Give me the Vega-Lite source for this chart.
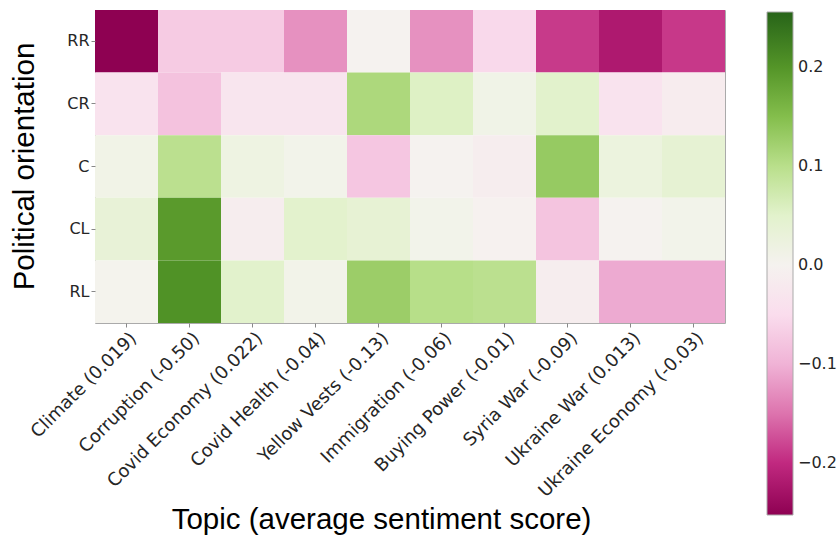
{
  "$schema": "https://vega.github.io/schema/vega-lite/v6.json",
  "autosize": {"type": "none"},
  "padding": {"left": 95, "top": 10, "right": 115, "bottom": 213},
  "width": 630,
  "height": 313,
  "background": "white",
  "data": {
    "values": [
      {"topic": "Climate (0.019)", "o": "RR", "v": -0.253},
      {"topic": "Corruption (-0.50)", "o": "RR", "v": -0.071},
      {"topic": "Covid Economy (0.022)", "o": "RR", "v": -0.071},
      {"topic": "Covid Health (-0.04)", "o": "RR", "v": -0.127},
      {"topic": "Yellow Vests (-0.13)", "o": "RR", "v": 0.0},
      {"topic": "Immigration (-0.06)", "o": "RR", "v": -0.127},
      {"topic": "Buying Power (-0.01)", "o": "RR", "v": -0.054},
      {"topic": "Syria War (-0.09)", "o": "RR", "v": -0.189},
      {"topic": "Ukraine War (0.013)", "o": "RR", "v": -0.22},
      {"topic": "Ukraine Economy (-0.03)", "o": "RR", "v": -0.19},

      {"topic": "Climate (0.019)", "o": "CR", "v": -0.036},
      {"topic": "Corruption (-0.50)", "o": "CR", "v": -0.082},
      {"topic": "Covid Economy (0.022)", "o": "CR", "v": -0.03},
      {"topic": "Covid Health (-0.04)", "o": "CR", "v": -0.03},
      {"topic": "Yellow Vests (-0.13)", "o": "CR", "v": 0.112},
      {"topic": "Immigration (-0.06)", "o": "CR", "v": 0.056},
      {"topic": "Buying Power (-0.01)", "o": "CR", "v": 0.013},
      {"topic": "Syria War (-0.09)", "o": "CR", "v": 0.05},
      {"topic": "Ukraine War (0.013)", "o": "CR", "v": -0.036},
      {"topic": "Ukraine Economy (-0.03)", "o": "CR", "v": -0.015},

      {"topic": "Climate (0.019)", "o": "C", "v": 0.012},
      {"topic": "Corruption (-0.50)", "o": "C", "v": 0.097},
      {"topic": "Covid Economy (0.022)", "o": "C", "v": 0.02},
      {"topic": "Covid Health (-0.04)", "o": "C", "v": 0.008},
      {"topic": "Yellow Vests (-0.13)", "o": "C", "v": -0.077},
      {"topic": "Immigration (-0.06)", "o": "C", "v": 0.0},
      {"topic": "Buying Power (-0.01)", "o": "C", "v": -0.012},
      {"topic": "Syria War (-0.09)", "o": "C", "v": 0.133},
      {"topic": "Ukraine War (0.013)", "o": "C", "v": 0.025},
      {"topic": "Ukraine Economy (-0.03)", "o": "C", "v": 0.04},

      {"topic": "Climate (0.019)", "o": "CL", "v": 0.035},
      {"topic": "Corruption (-0.50)", "o": "CL", "v": 0.194},
      {"topic": "Covid Economy (0.022)", "o": "CL", "v": -0.012},
      {"topic": "Covid Health (-0.04)", "o": "CL", "v": 0.048},
      {"topic": "Yellow Vests (-0.13)", "o": "CL", "v": 0.038},
      {"topic": "Immigration (-0.06)", "o": "CL", "v": 0.008},
      {"topic": "Buying Power (-0.01)", "o": "CL", "v": -0.004},
      {"topic": "Syria War (-0.09)", "o": "CL", "v": -0.08},
      {"topic": "Ukraine War (0.013)", "o": "CL", "v": 0.0},
      {"topic": "Ukraine Economy (-0.03)", "o": "CL", "v": 0.008},

      {"topic": "Climate (0.019)", "o": "RL", "v": 0.004},
      {"topic": "Corruption (-0.50)", "o": "RL", "v": 0.204},
      {"topic": "Covid Economy (0.022)", "o": "RL", "v": 0.05},
      {"topic": "Covid Health (-0.04)", "o": "RL", "v": 0.01},
      {"topic": "Yellow Vests (-0.13)", "o": "RL", "v": 0.128},
      {"topic": "Immigration (-0.06)", "o": "RL", "v": 0.102},
      {"topic": "Buying Power (-0.01)", "o": "RL", "v": 0.097},
      {"topic": "Syria War (-0.09)", "o": "RL", "v": -0.012},
      {"topic": "Ukraine War (0.013)", "o": "RL", "v": -0.107},
      {"topic": "Ukraine Economy (-0.03)", "o": "RL", "v": -0.107}
    ]
  },
  "mark": {"type": "rect"},
  "encoding": {
    "x": {
      "field": "topic",
      "type": "nominal",
      "sort": null,
      "scale": {"paddingInner": 0, "paddingOuter": 0},
      "axis": {
        "title": "Topic (average sentiment score)",
        "titleFont": "Liberation Sans",
        "titleFontSize": 29.5,
        "titleFontWeight": "normal",
        "titleColor": "#000000",
        "titleX": 286,
        "titleY": 205,
        "titleBaseline": "alphabetic",
        "titleAnchor": "middle",
        "labelAngle": -45,
        "labelAlign": "right",
        "labelBaseline": "top",
        "labelFont": "DejaVu Sans",
        "labelFontSize": 18,
        "labelColor": "#262626",
        "labelPadding": 2,
        "labelOffset": 1,
        "labelLimit": 400,
        "tickSize": 4,
        "tickColor": "#888888",
        "domain": false,
        "labelOverlap": false
      }
    },
    "y": {
      "field": "o",
      "type": "nominal",
      "sort": ["RR", "CR", "C", "CL", "RL"],
      "scale": {"paddingInner": 0, "paddingOuter": 0},
      "axis": {
        "title": "Political orientation",
        "titleFont": "Liberation Sans",
        "titleFontSize": 29.5,
        "titleFontWeight": "normal",
        "titleColor": "#000000",
        "titleAngle": -90,
        "titleX": -62,
        "titleY": 156,
        "titleBaseline": "alphabetic",
        "titleAlign": "center",
        "labelFont": "DejaVu Sans",
        "labelFontSize": 16,
        "labelColor": "#262626",
        "labelPadding": 2,
        "tickSize": 4,
        "tickColor": "#888888",
        "domain": false
      }
    },
    "color": {
      "field": "v",
      "type": "quantitative",
      "scale": {"scheme": "pinkyellowgreen", "domain": [-0.253, 0.256]},
      "legend": {
        "title": null,
        "orient": "none",
        "legendX": 672,
        "legendY": 2,
        "direction": "vertical",
        "gradientLength": 503,
        "gradientThickness": 26,
        "gradientStrokeColor": "#aaaaaa",
        "gradientStrokeWidth": 1,
        "values": [-0.2, -0.1, 0, 0.1, 0.2],
        "format": ".1f",
        "labelFont": "DejaVu Sans",
        "labelFontSize": 16,
        "labelColor": "#262626",
        "labelOffset": 5,
        "labelOverlap": false,
        "padding": 0,
        "offset": 0
      }
    }
  },
  "config": {
    "view": {"stroke": "#aaaaaa", "strokeWidth": 1}
  }
}
